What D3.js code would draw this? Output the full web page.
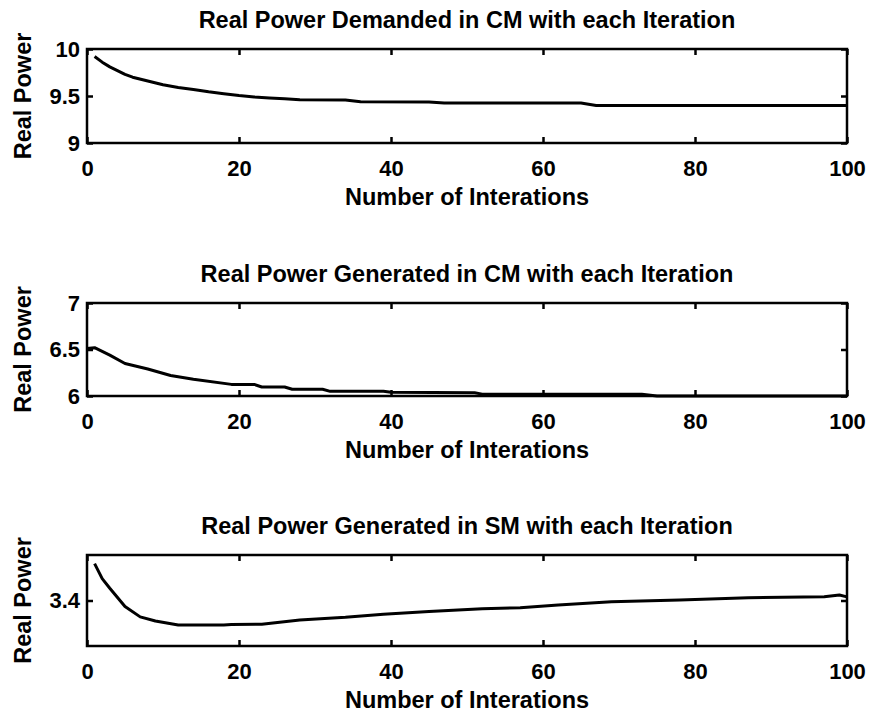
<!DOCTYPE html>
<html>
<head>
<meta charset="utf-8">
<script src="https://cdn.jsdelivr.net/npm/d3@7"></script>
<style>
  body { margin: 0; background: #fff; }
  text { font-family: "Liberation Sans", Arial, Helvetica, sans-serif; font-weight: bold; fill: #000; }
</style>
</head>
<body>
<div class="container"></div>
<script>
var w = 872;
var h = 716;

// iteration numbers and values
var iterDemandCM = [1, 2, 3, 4, 5, 6, 8, 10, 12, 14, 16, 18, 20, 22, 24, 26, 28, 34, 36, 45, 47, 65, 67, 100];
var demandCM = [9.92, 9.86, 9.81, 9.77, 9.73, 9.70, 9.66, 9.62, 9.59, 9.57, 9.545, 9.525, 9.505, 9.49, 9.48, 9.47, 9.46, 9.457, 9.44, 9.437, 9.425, 9.425, 9.40, 9.40];

var iterGenCM = [0, 1, 3, 5, 8, 11, 14, 19, 22, 23, 26, 27, 31, 32, 39, 40, 51, 52, 73, 75, 100];
var genCM = [6.51, 6.52, 6.44, 6.35, 6.29, 6.22, 6.18, 6.125, 6.125, 6.097, 6.097, 6.072, 6.072, 6.05, 6.05, 6.04, 6.035, 6.02, 6.02, 6.0, 6.0];

var iterGenSM = [1, 2, 3, 5, 7, 9, 12, 18, 19, 23, 28, 34, 39, 45, 52, 57, 62, 69, 78, 87, 97, 99, 100];
var genSM = [3.481, 3.448, 3.427, 3.387, 3.364, 3.355, 3.346, 3.346, 3.347, 3.348, 3.357, 3.363, 3.370, 3.376, 3.382, 3.384, 3.390, 3.397, 3.401, 3.406, 3.408, 3.412, 3.408];

var xTicks = [0, 20, 40, 60, 80, 100];
var yTicksDemand = [9, 9.5, 10];
var yTicksGenCM = [6, 6.5, 7];
var yTicksGenSM = [3.4];

var titles = [
  "Real Power Demanded in CM with each Iteration",
  "Real Power Generated in CM with each Iteration",
  "Real Power Generated in SM with each Iteration"
];
var xLabel = "Number of Interations";
var yLabel = "Real Power";

var panels = [
  { top: 49, bottom: 143, domain: [9, 10], ticks: yTicksDemand, xs: iterDemandCM, ys: demandCM, title: titles[0] },
  { top: 303, bottom: 396, domain: [6, 7], ticks: yTicksGenCM, xs: iterGenCM, ys: genCM, title: titles[1] },
  { top: 555, bottom: 646, domain: [3.3, 3.5], ticks: yTicksGenSM, xs: iterGenSM, ys: genSM, title: titles[2] }
];

var left = 87, right = 847;

var canvas = d3
  .select(".container")
  .append("svg")
  .attr("width", w)
  .attr("height", h);

var xScale = d3.scaleLinear().domain([0, 100]).range([left, right]);

panels.forEach(function(p) {
  var yScale = d3.scaleLinear().domain(p.domain).range([p.bottom, p.top]);
  var g = canvas.append("g");

  // inward ticks on all four sides
  g.append("g")
    .attr("transform", "translate(0," + p.bottom + ")")
    .call(d3.axisBottom(xScale).tickValues(xTicks).tickSize(-6).tickSizeOuter(0).tickPadding(17).tickFormat(d3.format("d")));
  g.append("g")
    .attr("transform", "translate(0," + p.top + ")")
    .call(d3.axisTop(xScale).tickValues(xTicks).tickSize(-6).tickSizeOuter(0).tickFormat(""));
  g.append("g")
    .attr("transform", "translate(" + left + ",0)")
    .call(d3.axisLeft(yScale).tickValues(p.ticks).tickSize(-6).tickSizeOuter(0).tickPadding(7).tickFormat(d3.format("~g")));
  g.append("g")
    .attr("transform", "translate(" + right + ",0)")
    .call(d3.axisRight(yScale).tickValues(p.ticks).tickSize(-6).tickSizeOuter(0).tickFormat(""));

  g.selectAll(".domain").remove();
  g.selectAll(".tick line").attr("stroke", "#000").attr("stroke-width", 2.5);
  g.selectAll(".tick text").style("font-size", "22px").attr("fill", "#000");

  // frame
  g.append("rect")
    .attr("x", left)
    .attr("y", p.top)
    .attr("width", right - left)
    .attr("height", p.bottom - p.top)
    .attr("fill", "none")
    .attr("stroke", "#000")
    .attr("stroke-width", 2.5);

  var line = d3.line()
    .x(function(d, i) { return xScale(p.xs[i]); })
    .y(function(d) { return yScale(d); });

  g.append("path")
    .datum(p.ys)
    .attr("d", line)
    .attr("fill", "none")
    .attr("stroke", "#000")
    .attr("stroke-width", 3)
    .attr("stroke-linejoin", "round");

  g.append("text")
    .attr("x", (left + right) / 2)
    .attr("y", p.top - 21)
    .attr("text-anchor", "middle")
    .style("font-size", "23.5px")
    .text(p.title);

  g.append("text")
    .attr("x", (left + right) / 2)
    .attr("y", p.bottom + 62)
    .attr("text-anchor", "middle")
    .style("font-size", "23.5px")
    .text(xLabel);

  g.append("text")
    .attr("transform", "translate(31," + (p.top + p.bottom) / 2 + ") rotate(-90)")
    .attr("text-anchor", "middle")
    .style("font-size", "23.5px")
    .text(yLabel);
});
</script>
</body>
</html>
